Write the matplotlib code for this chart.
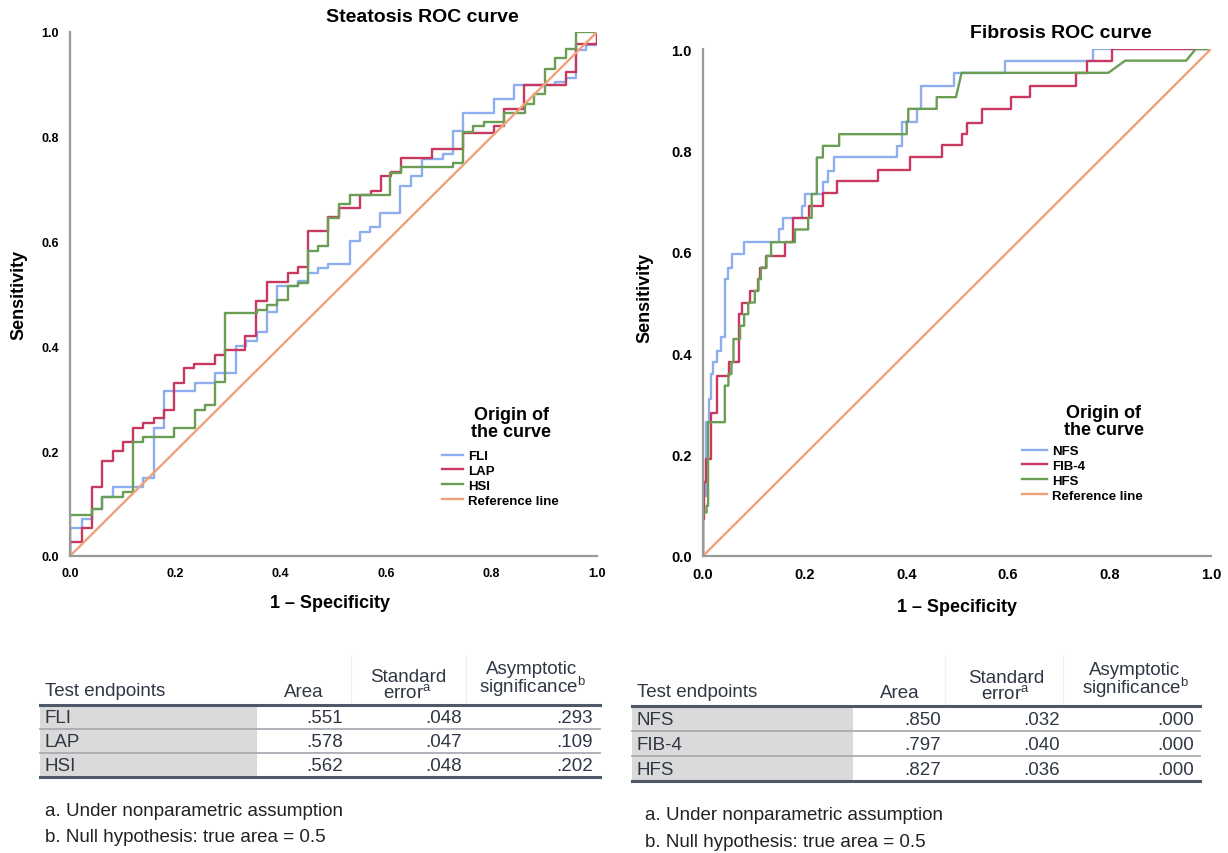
import numpy as np
import matplotlib
matplotlib.use("Agg")
import matplotlib.pyplot as plt

plt.rcParams["font.family"] = ["Liberation Sans", "DejaVu Sans"]
plt.rcParams["mathtext.fontset"] = "custom"
plt.rcParams["mathtext.rm"] = "Liberation Sans"

# ---- Steatosis ROC: step points (1 - specificity at jump, sensitivity after jump)
fli_x = [0, 0, 0.022, 0.042, 0.061, 0.082, 0.138, 0.160, 0.178, 0.237, 0.275, 0.315, 0.334,
         0.354, 0.373, 0.392, 0.433, 0.452, 0.471, 0.490, 0.531, 0.550, 0.569, 0.588, 0.627,
         0.648, 0.667, 0.707, 0.726, 0.746, 0.805, 0.843, 0.920, 0.941, 0.960, 0.980, 1.0]
fli_y = [0, 0.053, 0.071, 0.090, 0.112, 0.131, 0.149, 0.244, 0.314, 0.331, 0.349, 0.401, 0.411,
         0.427, 0.465, 0.516, 0.525, 0.541, 0.549, 0.557, 0.602, 0.618, 0.627, 0.655, 0.707,
         0.726, 0.758, 0.767, 0.812, 0.845, 0.872, 0.898, 0.904, 0.913, 0.966, 0.975, 1.0]

lap_x = [0, 0, 0.022, 0.042, 0.061, 0.082, 0.100, 0.119, 0.138, 0.160, 0.178, 0.198, 0.217,
         0.236, 0.276, 0.295, 0.333, 0.353, 0.373, 0.413, 0.432, 0.452, 0.490, 0.511, 0.550,
         0.571, 0.590, 0.609, 0.628, 0.687, 0.746, 0.804, 0.824, 0.861, 0.941, 0.960, 1.0]
lap_y = [0, 0.026, 0.053, 0.131, 0.182, 0.201, 0.218, 0.244, 0.253, 0.263, 0.279, 0.331, 0.358,
         0.366, 0.384, 0.393, 0.419, 0.487, 0.522, 0.541, 0.551, 0.621, 0.646, 0.665, 0.688,
         0.697, 0.726, 0.732, 0.759, 0.777, 0.808, 0.820, 0.854, 0.898, 0.923, 0.977, 1.0]

hsi_x = [0, 0, 0.042, 0.061, 0.100, 0.119, 0.138, 0.198, 0.237, 0.256, 0.275, 0.295, 0.354,
         0.373, 0.392, 0.413, 0.433, 0.452, 0.471, 0.490, 0.511, 0.531, 0.608, 0.628, 0.726,
         0.746, 0.765, 0.786, 0.823, 0.863, 0.881, 0.902, 0.921, 0.941, 0.960, 1.0]
hsi_y = [0, 0.079, 0.090, 0.112, 0.122, 0.218, 0.228, 0.244, 0.279, 0.288, 0.333, 0.464, 0.470,
         0.479, 0.489, 0.516, 0.521, 0.583, 0.592, 0.645, 0.672, 0.689, 0.731, 0.742, 0.750,
         0.810, 0.820, 0.829, 0.845, 0.863, 0.882, 0.930, 0.950, 0.968, 1.0, 1.0]

# ---- Fibrosis ROC
nfs_x = [0, 0, 0.006, 0.012, 0.016, 0.020, 0.027, 0.035, 0.043, 0.050, 0.058, 0.081, 0.150,
         0.157, 0.194, 0.201, 0.237, 0.247, 0.258, 0.381, 0.392, 0.421, 0.429, 0.494, 0.594,
         0.767, 1.0]
nfs_y = [0, 0.119, 0.264, 0.310, 0.359, 0.382, 0.405, 0.431, 0.546, 0.569, 0.596, 0.620, 0.645,
         0.667, 0.691, 0.714, 0.737, 0.760, 0.786, 0.809, 0.857, 0.882, 0.928, 0.953, 0.977,
         1.0, 1.0]

fib4_x = [0, 0, 0.002, 0.006, 0.015, 0.027, 0.052, 0.070, 0.076, 0.093, 0.109, 0.112, 0.124,
          0.161, 0.177, 0.209, 0.236, 0.263, 0.344, 0.407, 0.471, 0.509, 0.519, 0.549, 0.606,
          0.644, 0.734, 0.755, 0.805, 1.0]
fib4_y = [0, 0.073, 0.145, 0.191, 0.283, 0.356, 0.383, 0.477, 0.500, 0.523, 0.546, 0.569, 0.592,
          0.619, 0.667, 0.691, 0.716, 0.739, 0.762, 0.786, 0.811, 0.832, 0.855, 0.882, 0.905,
          0.928, 0.953, 0.977, 1.0, 1.0]

hfs_x = [0, 0, 0.007, 0.010, 0.043, 0.050, 0.056, 0.060, 0.073, 0.081, 0.089, 0.102, 0.109,
         0.114, 0.125, 0.134, 0.181, 0.207, 0.214, 0.224, 0.236, 0.268, 0.401, 0.404, 0.460]
hfs_y = [0, 0.086, 0.099, 0.264, 0.336, 0.359, 0.382, 0.428, 0.454, 0.477, 0.500, 0.523, 0.546,
         0.569, 0.592, 0.619, 0.644, 0.667, 0.714, 0.786, 0.809, 0.832, 0.857, 0.882, 0.905]
# HFS upper part has tied values -> sloped segments
hfs_tail_x = [0.498, 0.509, 0.798, 0.831, 0.951, 0.970, 1.0]
hfs_tail_y = [0.905, 0.953, 0.953, 0.977, 0.977, 1.0, 1.0]

# ---- AUC tables
steat_tests = ["FLI", "LAP", "HSI"]
steat_area = [".551", ".578", ".562"]
steat_se = [".048", ".047", ".048"]
steat_sig = [".293", ".109", ".202"]

fib_tests = ["NFS", "FIB-4", "HFS"]
fib_area = [".850", ".797", ".827"]
fib_se = [".032", ".040", ".036"]
fib_sig = [".000", ".000", ".000"]

C_BLUE = "#8eaef0"
C_RED = "#c8385f"
C_GREEN = "#6a9e55"
C_REF = "#efa27a"
TXT = "#2f3744"


def stairs(xs, ys):
    px, py = [xs[0]], [ys[0]]
    for i in range(1, len(xs)):
        px += [xs[i], xs[i]]
        py += [ys[i - 1], ys[i]]
    return px, py


W, H = 1228, 854
fig = plt.figure(figsize=(W / 100, H / 100), dpi=100)
fig.patch.set_facecolor("white")

# background axes in pixel coordinates for titles, labels and tables
bg = fig.add_axes([0, 0, 1, 1])
bg.set_xlim(0, W)
bg.set_ylim(H, 0)
bg.axis("off")
bg.patch.set_alpha(0)


def roc_axes(left, bottom, right, top, tick_fs):
    ax = fig.add_axes([left / W, 1 - bottom / H, (right - left) / W, (bottom - top) / H])
    ax.set_xlim(0, 1)
    ax.set_ylim(0, 1)
    ticks = [0, 0.2, 0.4, 0.6, 0.8, 1.0]
    ax.set_xticks(ticks)
    ax.set_yticks(ticks)
    ax.set_xticklabels(["%.1f" % t for t in ticks], fontsize=tick_fs, fontweight="bold")
    ax.set_yticklabels(["%.1f" % t for t in ticks], fontsize=tick_fs, fontweight="bold")
    ax.tick_params(length=0, pad=8)
    for s in ["top", "right"]:
        ax.spines[s].set_visible(False)
    for s in ["left", "bottom"]:
        ax.spines[s].set_color("#9a9a9a")
        ax.spines[s].set_linewidth(1.6)
    ax.patch.set_alpha(0)
    return ax


lw = 1.7
leg_kw = dict(loc="upper left", bbox_transform=fig.transFigure, frameon=False, borderpad=0,
              borderaxespad=0, handletextpad=0.35, labelspacing=0.2,
              prop={"size": 9.5, "weight": "bold"})

# left ROC
ax1 = roc_axes(70, 557, 597, 33, 9)
ax1.plot(*stairs(fli_x, fli_y), color=C_BLUE, lw=lw, label="FLI")
ax1.plot(*stairs(lap_x, lap_y), color=C_RED, lw=lw, label="LAP")
ax1.plot(*stairs(hsi_x, hsi_y), color=C_GREEN, lw=lw, label="HSI")
ax1.plot([0, 1], [0, 1], color=C_REF, lw=lw, label="Reference line")
ax1.legend(bbox_to_anchor=(442 / W, 1 - 451 / H), handlelength=1.6, **leg_kw)
bg.text(511, 424, "Origin of\nthe curve", ha="center", va="center", fontsize=13,
        fontweight="bold", linespacing=0.95)

# right ROC
ax2 = roc_axes(703, 557, 1211, 50, 10.5)
ax2.plot(*stairs(nfs_x, nfs_y), color=C_BLUE, lw=lw, label="NFS")
ax2.plot(*stairs(fib4_x, fib4_y), color=C_RED, lw=lw, label="FIB-4")
hx, hy = stairs(hfs_x, hfs_y)
ax2.plot(hx + hfs_tail_x, hy + hfs_tail_y, color=C_GREEN, lw=lw, label="HFS")
ax2.plot([0, 1], [0, 1], color=C_REF, lw=lw, label="Reference line")
ax2.legend(bbox_to_anchor=(1022 / W, 1 - 446 / H), handlelength=1.9, **leg_kw)
bg.text(1104, 422, "Origin of\nthe curve", ha="center", va="center", fontsize=13,
        fontweight="bold", linespacing=0.95)

# titles and axis labels
bg.text(422, 18, "Steatosis ROC curve", ha="center", va="center", fontsize=14, fontweight="bold")
bg.text(1061, 33, "Fibrosis ROC curve", ha="center", va="center", fontsize=14, fontweight="bold")
bg.text(330, 604, "1 \u2013 Specificity", ha="center", va="center", fontsize=13, fontweight="bold")
bg.text(957, 608, "1 \u2013 Specificity", ha="center", va="center", fontsize=13, fontweight="bold")
bg.text(19, 295, "Sensitivity", ha="center", va="center", rotation=90, fontsize=13, fontweight="bold")
bg.text(645, 298, "Sensitivity", ha="center", va="center", rotation=90, fontsize=13, fontweight="bold")


def draw_table(x0, x1, xg, y_rule, row_h, col_right, head_x, seps, names, area, se, sig,
               foot_x, foot_y):
    fs = 13.5
    # faint header column separators
    for vx in seps:
        bg.plot([vx, vx], [y_rule - 50, y_rule], color="#f0f0f0", lw=1)
    bg.text(x0 + 5, y_rule - 14, "Test endpoints", ha="left", va="center", fontsize=fs, color=TXT)
    bg.text(head_x[0], y_rule - 13, "Area", ha="center", va="center", fontsize=fs, color=TXT)
    bg.text(head_x[1], y_rule - 20, "Standard\n" + r"error$^{\mathrm{a}}$", ha="center",
            va="center", multialignment="center", linespacing=0.95, fontsize=fs, color=TXT)
    bg.text(head_x[2], y_rule - 26, "Asymptotic\n" + r"significance$^{\mathrm{b}}$", ha="center",
            va="center", multialignment="center", linespacing=0.85, fontsize=fs, color=TXT)
    n = len(names)
    bg.fill_between([x0, xg], y_rule + 1, y_rule + row_h * n, color="#dadada", lw=0)
    for i in range(n):
        yc = y_rule + row_h * i + row_h / 2 + 1
        bg.text(x0 + 5, yc, names[i], ha="left", va="center", fontsize=fs, color=TXT)
        for xr, val in zip(col_right, [area[i], se[i], sig[i]]):
            bg.text(xr, yc, val, ha="right", va="center", fontsize=fs, color=TXT)
        yl = y_rule + row_h * (i + 1)
        if i < n - 1:
            bg.plot([x0, x1], [yl, yl], color="#a9adb3", lw=1.3)
        else:
            bg.plot([x0, x1], [yl, yl], color="#4e5867", lw=2.2)
    bg.plot([x0, x1], [y_rule, y_rule], color="#4e5867", lw=2.2)
    bg.text(foot_x, foot_y[0], "a. Under nonparametric assumption", ha="left", va="center",
            fontsize=fs, color="#222222")
    bg.text(foot_x, foot_y[1], "b. Null hypothesis: true area = 0.5", ha="left", va="center",
            fontsize=fs, color="#222222")


draw_table(40, 600, 257, 706, 24, [343, 462, 593], [304, 408, 532], [351, 466],
           steat_tests, steat_area, steat_se, steat_sig, 45, [812, 838])
draw_table(632, 1200, 853, 707, 25, [941, 1060, 1194], [900, 1006, 1135], [945, 1063],
           fib_tests, fib_area, fib_se, fib_sig, 645, [816, 843])

fig.savefig("out.png", dpi=100, facecolor="white")
